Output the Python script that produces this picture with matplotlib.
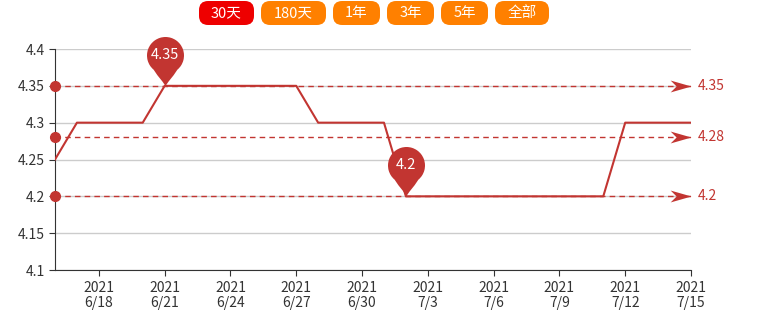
import matplotlib
matplotlib.use("Agg")
import matplotlib.pyplot as plt
import numpy as np
import pandas as pd
from matplotlib.path import Path
from matplotlib.patches import FancyBboxPatch

plt.rcParams['font.family'] = ['Noto Sans CJK SC', 'DejaVu Sans']

# данные: ставка по дням
dates = pd.date_range('2021-06-16', '2021-07-15', freq='D')
rates = [4.25,
         4.30, 4.30, 4.30, 4.30,
         4.35, 4.35, 4.35, 4.35, 4.35, 4.35, 4.35,
         4.30, 4.30, 4.30, 4.30,
         4.20, 4.20, 4.20, 4.20, 4.20, 4.20, 4.20, 4.20, 4.20, 4.20,
         4.30, 4.30, 4.30, 4.30]
buttons = ['30天', '180天', '1年', '3年', '5年', '全部']
button_x = [(199, 254), (261, 326), (333, 380), (387, 434), (441, 488), (495, 549)]
y_ticks = [4.1, 4.15, 4.2, 4.25, 4.3, 4.35, 4.4]

RED = '#c23531'
W, H = 758, 310

fig = plt.figure(figsize=(W / 100, H / 100), dpi=100)
ax = fig.add_axes([55 / W, 40 / H, (691 - 55) / W, (270 - 49) / H])

ax.plot(dates, rates, color=RED, lw=1.5, zorder=3)

ax.set_xlim(dates[0], dates[-1])
ax.set_ylim(4.1, 4.4)
ax.set_yticks(y_ticks)
ax.set_yticklabels([f'{v:g}' for v in y_ticks])
tick_dates = dates[2::3]
ax.set_xticks(tick_dates)
ax.set_xticklabels([f'{d.year}\n{d.month}/{d.day}' for d in tick_dates], linespacing=1.05)

ax.spines[['top', 'right']].set_visible(False)
ax.spines[['left', 'bottom']].set_color('#333333')
ax.tick_params(axis='both', direction='out', length=4, color='#333333',
               labelcolor='#333333', labelsize=10)
ax.tick_params(axis='x', pad=4)
ax.yaxis.grid(True, color='#cccccc', lw=1)
ax.set_axisbelow(True)

# линии max / avg / min
vmax = max(rates)
vmin = min(rates)
vavg = round(float(np.mean(rates)), 2)
arrow = Path([(0, 0), (-21, 6), (-15, 0), (-21, -6), (0, 0)],
             [Path.MOVETO, Path.LINETO, Path.LINETO, Path.LINETO, Path.CLOSEPOLY])
for v in (vmax, vavg, vmin):
    ax.plot([dates[0], dates[-1]], [v, v], color=RED, lw=1, ls=(0, (4, 3)), zorder=2)
    ax.plot(dates[0], v, 'o', color=RED, ms=7, clip_on=False, zorder=4)
    ax.plot(dates[-1], v, marker=arrow, color=RED, ms=30, mew=0, clip_on=False, zorder=4)
    ax.annotate(f'{v:g}', xy=(dates[-1], v), xytext=(5, 0),
                textcoords='offset points', ha='left', va='center',
                color=RED, fontsize=10, annotation_clip=False)

# метки-"булавки" на max и min
r, c = 18.5, 31
arc = Path.arc(-50, 230)
verts = list(arc.vertices * r + np.array([0, c]))
codes = list(arc.codes)
lr = verts[0]
verts += [(-7, 9), (-1.5, 4), (0, 0), (1.5, 4), (7, 9), tuple(lr), (0, 0)]
codes += [Path.CURVE4] * 6 + [Path.CLOSEPOLY]
pin = Path(verts, codes)
ms_pin = 2 * (c + r) * 0.72
for idx in (int(np.argmax(rates)), int(np.argmin(rates))):
    ax.plot(dates[idx], rates[idx], marker=pin, color=RED, ms=ms_pin, mew=0,
            clip_on=False, zorder=5)
    ax.annotate(f'{rates[idx]:g}', xy=(dates[idx], rates[idx]), xytext=(0, c * 0.72),
                textcoords='offset points', ha='center', va='center',
                color='white', fontsize=10.5, zorder=6, annotation_clip=False)

# кнопки периода
for i, (label, (x0, x1)) in enumerate(zip(buttons, button_x)):
    y0, y1 = 1, 25
    col = '#ee0000' if i == 0 else '#ff8000'
    box = FancyBboxPatch((x0 / W, 1 - y1 / H), (x1 - x0) / W, (y1 - y0) / H,
                         boxstyle='round,pad=0,rounding_size=0.012',
                         transform=fig.transFigure, facecolor=col, edgecolor='none',
                         mutation_aspect=W / H)
    fig.patches.append(box)
    fig.text((x0 + x1) / 2 / W, 1 - (y0 + y1) / 2 / H, label, ha='center', va='center',
             color='white', fontsize=10.5)

fig.savefig('out.png', dpi=100)
